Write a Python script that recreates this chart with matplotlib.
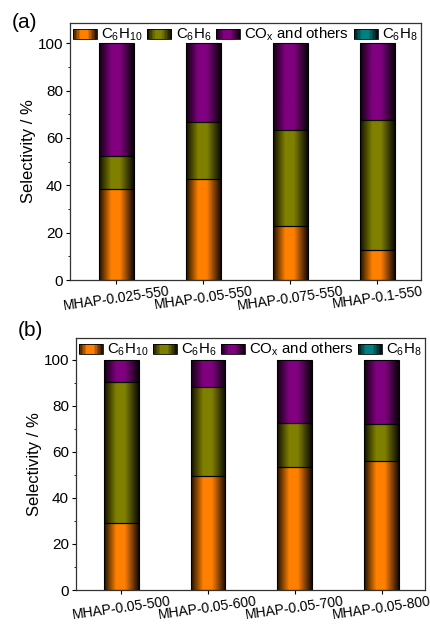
import numpy as np
import matplotlib
matplotlib.use("Agg")
import matplotlib.pyplot as plt
from matplotlib.patches import Rectangle
from matplotlib.legend_handler import HandlerBase

plt.rcParams['font.family'] = ['Liberation Sans', 'DejaVu Sans']
plt.rcParams['mathtext.fontset'] = 'custom'
plt.rcParams['mathtext.rm'] = 'Liberation Sans'
plt.rcParams['mathtext.it'] = 'Liberation Sans'

# data
labels_a = ["MHAP-0.025-550", "MHAP-0.05-550", "MHAP-0.075-550", "MHAP-0.1-550"]
c6h10_a = [38.5, 42.5, 23.0, 12.5]
c6h6_a = [14.0, 24.0, 40.5, 55.0]
cox_a = [47.5, 33.5, 36.5, 32.5]
c6h8_a = [0, 0, 0, 0]

labels_b = ["MHAP-0.05-500", "MHAP-0.05-600", "MHAP-0.05-700", "MHAP-0.05-800"]
c6h10_b = [29.0, 49.5, 53.5, 56.0]
c6h6_b = [61.5, 38.5, 19.0, 16.0]
cox_b = [9.5, 12.0, 27.5, 28.0]
c6h8_b = [0, 0, 0, 0]

names = ["C$_6$H$_{10}$", "C$_6$H$_6$", "CO$_\\mathrm{x}$ and others", "C$_6$H$_8$"]
colors = ["#ff8000", "#808000", "#800080", "#008080"]


def shade(t):
    # brightness profile across a bar: dark edges, bright centre
    return np.interp(t, [0, 0.35, 0.6, 1], [0.12, 1, 1, 0.08])


def grad_bar(ax, x, bottom, h, w, color):
    if h <= 0:
        return
    rgb = np.array(matplotlib.colors.to_rgb(color))
    t = np.linspace(0, 1, 64)
    img = (shade(t)[:, None] * rgb[None, :])[None, :, :]
    rect = Rectangle((x - w / 2, bottom), w, h, facecolor='none',
                     edgecolor='black', linewidth=0.8, zorder=3)
    ax.add_patch(rect)
    im = ax.imshow(img, extent=(x - w / 2, x + w / 2, bottom, bottom + h),
                   aspect='auto', interpolation='bilinear', zorder=2)
    im.set_clip_path(rect)


class GradHandler(HandlerBase):
    def create_artists(self, legend, orig_handle, xdescent, ydescent,
                       width, height, fontsize, trans):
        rgb = np.array(matplotlib.colors.to_rgb(orig_handle.get_facecolor()))
        n = 16
        arts = []
        for i in range(n):
            t = (i + 0.5) / n
            r = Rectangle((xdescent + width * i / n, ydescent), width / n + 0.3, height,
                          facecolor=rgb * shade(t), edgecolor='none', transform=trans)
            arts.append(r)
        arts.append(Rectangle((xdescent, ydescent), width, height, facecolor='none',
                              edgecolor='black', linewidth=0.6, transform=trans))
        return arts


def panel(ax, labels, series, ytop):
    x = np.arange(len(labels))
    w = 0.4
    bottom = np.zeros(len(labels))
    for vals, c in zip(series, colors):
        for i in range(len(labels)):
            grad_bar(ax, x[i], bottom[i], vals[i], w, c)
        bottom = bottom + np.array(vals)
    ax.set_ylim(0, ytop)
    ax.set_yticks([0, 20, 40, 60, 80, 100])
    ax.set_yticks([10, 30, 50, 70, 90], minor=True)
    ax.set_xticks(x)
    ax.set_xticklabels(labels, rotation=8, fontsize=10, ha='center')
    ax.tick_params(axis='y', labelsize=11, direction='out', length=3, width=0.8, pad=2)
    ax.tick_params(axis='y', which='minor', length=1.5, width=0.6)
    ax.tick_params(axis='x', direction='out', length=3, width=0.8, pad=0)
    ax.set_ylabel("Selectivity / %", fontsize=12, labelpad=1)
    for s in ax.spines.values():
        s.set_linewidth(0.9)
        s.set_color('#333333')
    handles = [Rectangle((0, 0), 1, 1, facecolor=c) for c in colors]
    ax.legend(handles, names, ncol=4, loc='upper center', fontsize=10.8,
              handler_map={Rectangle: GradHandler()},
              frameon=False, borderaxespad=0,
              bbox_to_anchor=(0, 0, 1, 1), mode='expand',
              handlelength=1.6, handleheight=0.65, handletextpad=0.3,
              borderpad=0.2, columnspacing=0.8)


fig = plt.figure(figsize=(4.31, 6.24), dpi=100)
ax1 = fig.add_axes([70 / 431, (624 - 280) / 624, 351 / 431, 257 / 624])
ax1.set_xlim(-0.53, 3.5)
panel(ax1, labels_a, [c6h10_a, c6h6_a, cox_a, c6h8_a], 108.5)

ax2 = fig.add_axes([76 / 431, 34 / 624, 349 / 431, 252 / 624])
ax2.set_xlim(-0.52, 3.5)
panel(ax2, labels_b, [c6h10_b, c6h6_b, cox_b, c6h8_b], 109.5)

fig.text(25 / 431, 1 - 22 / 624, "(a)", fontsize=15, va='center', ha='center')
fig.text(30 / 431, 1 - 331 / 624, "(b)", fontsize=15, va='center', ha='center')

fig.savefig("out.png", dpi=100)
